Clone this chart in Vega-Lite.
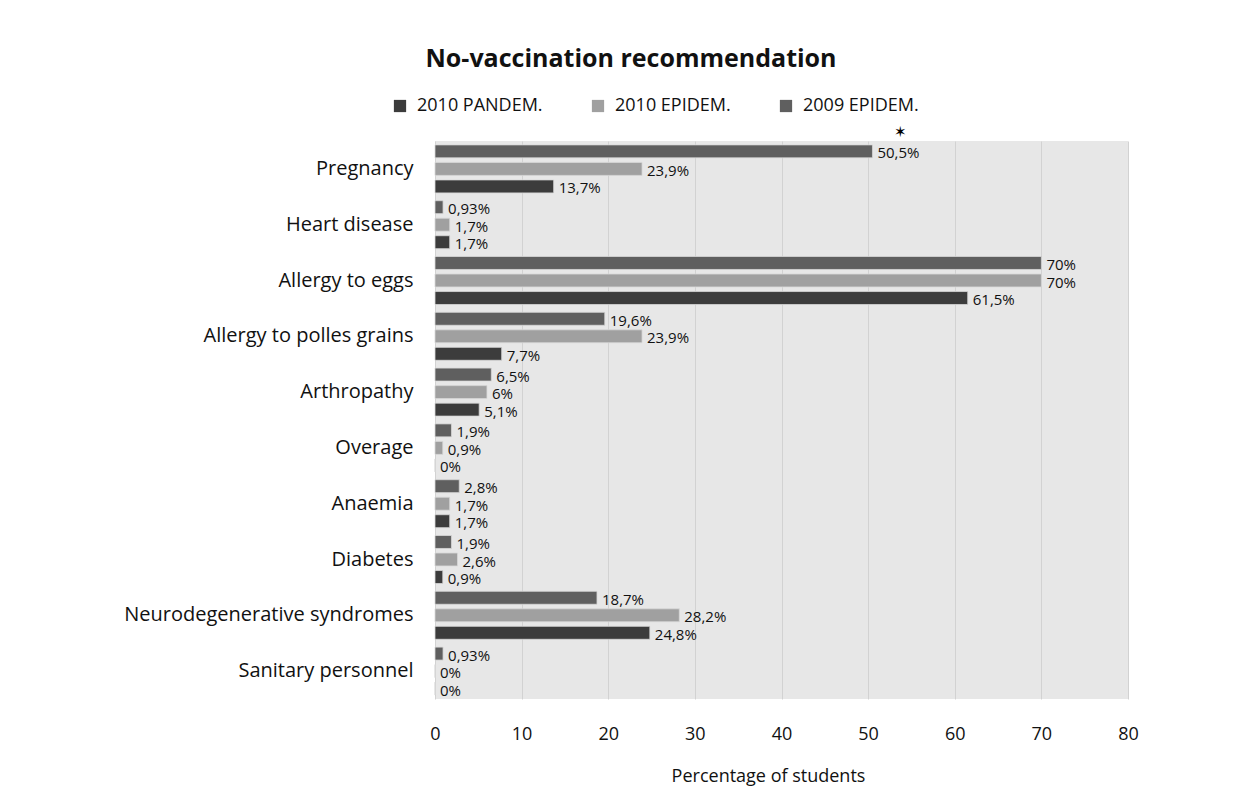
{
  "$schema": "https://vega.github.io/schema/vega-lite/v6.json",
  "width": 693,
  "height": 558,
  "padding": {"left": 123, "top": 47, "right": 10, "bottom": 10},
  "background": "white",
  "title": {"text": "No-vaccination recommendation", "font": "Open Sans", "fontSize": 25, "fontWeight": "bold", "color": "#111111", "anchor": "middle", "frame": "bounds", "offset": 25},
  "config": {
    "view": {"fill": "#e7e7e7", "stroke": null},
    "font": "Open Sans"
  },
  "datasets": {
    "bars": [
      {"reason": "Pregnancy", "series": "2009 EPIDEM.", "value": 50.5, "label": "50,5%"},
      {"reason": "Pregnancy", "series": "2010 EPIDEM.", "value": 23.9, "label": "23,9%"},
      {"reason": "Pregnancy", "series": "2010 PANDEM.", "value": 13.7, "label": "13,7%"},
      {"reason": "Heart disease", "series": "2009 EPIDEM.", "value": 0.93, "label": "0,93%"},
      {"reason": "Heart disease", "series": "2010 EPIDEM.", "value": 1.7, "label": "1,7%"},
      {"reason": "Heart disease", "series": "2010 PANDEM.", "value": 1.7, "label": "1,7%"},
      {"reason": "Allergy to eggs", "series": "2009 EPIDEM.", "value": 70, "label": "70%"},
      {"reason": "Allergy to eggs", "series": "2010 EPIDEM.", "value": 70, "label": "70%"},
      {"reason": "Allergy to eggs", "series": "2010 PANDEM.", "value": 61.5, "label": "61,5%"},
      {"reason": "Allergy to polles grains", "series": "2009 EPIDEM.", "value": 19.6, "label": "19,6%"},
      {"reason": "Allergy to polles grains", "series": "2010 EPIDEM.", "value": 23.9, "label": "23,9%"},
      {"reason": "Allergy to polles grains", "series": "2010 PANDEM.", "value": 7.7, "label": "7,7%"},
      {"reason": "Arthropathy", "series": "2009 EPIDEM.", "value": 6.5, "label": "6,5%"},
      {"reason": "Arthropathy", "series": "2010 EPIDEM.", "value": 6, "label": "6%"},
      {"reason": "Arthropathy", "series": "2010 PANDEM.", "value": 5.1, "label": "5,1%"},
      {"reason": "Overage", "series": "2009 EPIDEM.", "value": 1.9, "label": "1,9%"},
      {"reason": "Overage", "series": "2010 EPIDEM.", "value": 0.9, "label": "0,9%"},
      {"reason": "Overage", "series": "2010 PANDEM.", "value": 0, "label": "0%"},
      {"reason": "Anaemia", "series": "2009 EPIDEM.", "value": 2.8, "label": "2,8%"},
      {"reason": "Anaemia", "series": "2010 EPIDEM.", "value": 1.7, "label": "1,7%"},
      {"reason": "Anaemia", "series": "2010 PANDEM.", "value": 1.7, "label": "1,7%"},
      {"reason": "Diabetes", "series": "2009 EPIDEM.", "value": 1.9, "label": "1,9%"},
      {"reason": "Diabetes", "series": "2010 EPIDEM.", "value": 2.6, "label": "2,6%"},
      {"reason": "Diabetes", "series": "2010 PANDEM.", "value": 0.9, "label": "0,9%"},
      {"reason": "Neurodegenerative syndromes", "series": "2009 EPIDEM.", "value": 18.7, "label": "18,7%"},
      {"reason": "Neurodegenerative syndromes", "series": "2010 EPIDEM.", "value": 28.2, "label": "28,2%"},
      {"reason": "Neurodegenerative syndromes", "series": "2010 PANDEM.", "value": 24.8, "label": "24,8%"},
      {"reason": "Sanitary personnel", "series": "2009 EPIDEM.", "value": 0.93, "label": "0,93%"},
      {"reason": "Sanitary personnel", "series": "2010 EPIDEM.", "value": 0, "label": "0%"},
      {"reason": "Sanitary personnel", "series": "2010 PANDEM.", "value": 0, "label": "0%"}
    ],
    "note": [
      {"reason": "Pregnancy", "series": "2009 EPIDEM.", "value": 53.7, "label": "✶"}
    ]
  },
  "encoding": {
    "y": {
      "field": "reason", "type": "nominal",
      "sort": ["Pregnancy", "Heart disease", "Allergy to eggs", "Allergy to polles grains", "Arthropathy", "Overage", "Anaemia", "Diabetes", "Neurodegenerative syndromes", "Sanitary personnel"],
      "scale": {"paddingInner": 0.14, "paddingOuter": 0.07},
      "axis": {"title": null, "domain": false, "ticks": false, "labelFont": "Open Sans", "labelFontSize": 20, "labelColor": "#111111", "labelPadding": 22, "labelLimit": 400}
    },
    "yOffset": {
      "field": "series", "type": "nominal",
      "sort": ["2009 EPIDEM.", "2010 EPIDEM.", "2010 PANDEM."],
      "scale": {"paddingInner": 0.26, "paddingOuter": 0}
    },
    "x": {
      "field": "value", "type": "quantitative",
      "scale": {"domain": [0, 80]},
      "axis": {"title": "Percentage of students", "titleX": 333, "values": [0, 10, 20, 30, 40, 50, 60, 70, 80], "labelOverlap": false, "labelFlush": false, "domain": false, "ticks": false, "grid": true, "gridColor": "#d2d2d2", "gridWidth": 1, "labelFont": "Open Sans", "labelFontSize": 18, "labelColor": "#111111", "labelPadding": 26, "titleFont": "Open Sans", "titleFontSize": 18, "titleFontWeight": "normal", "titleColor": "#111111", "titlePadding": 24}
    }
  },
  "layer": [
    {
      "data": {"name": "bars"},
      "mark": {"type": "bar", "stroke": "#d8d8d8", "strokeWidth": 0.8},
      "encoding": {
        "color": {
          "field": "series", "type": "nominal",
          "scale": {"domain": ["2010 PANDEM.", "2010 EPIDEM.", "2009 EPIDEM."], "range": ["#3c3c3c", "#a0a0a0", "#5f5f5f"]},
          "legend": {"title": null, "orient": "none", "direction": "horizontal", "legendX": -44, "legendY": -44, "symbolType": "square", "symbolSize": 150, "symbolStrokeWidth": 0, "labelFont": "Open Sans", "labelFontSize": 18, "labelColor": "#111111", "columnPadding": 46, "labelOffset": 8}
        }
      }
    },
    {
      "data": {"name": "bars"},
      "mark": {"type": "text", "align": "left", "baseline": "middle", "dx": 5, "dy": 2, "font": "Open Sans", "fontSize": 15, "color": "#111111"},
      "encoding": {"text": {"field": "label"}}
    },
    {
      "data": {"name": "note"},
      "mark": {"type": "text", "align": "center", "baseline": "middle", "dy": -19, "fontSize": 15, "color": "#000000"},
      "encoding": {"text": {"field": "label"}}
    }
  ]
}
